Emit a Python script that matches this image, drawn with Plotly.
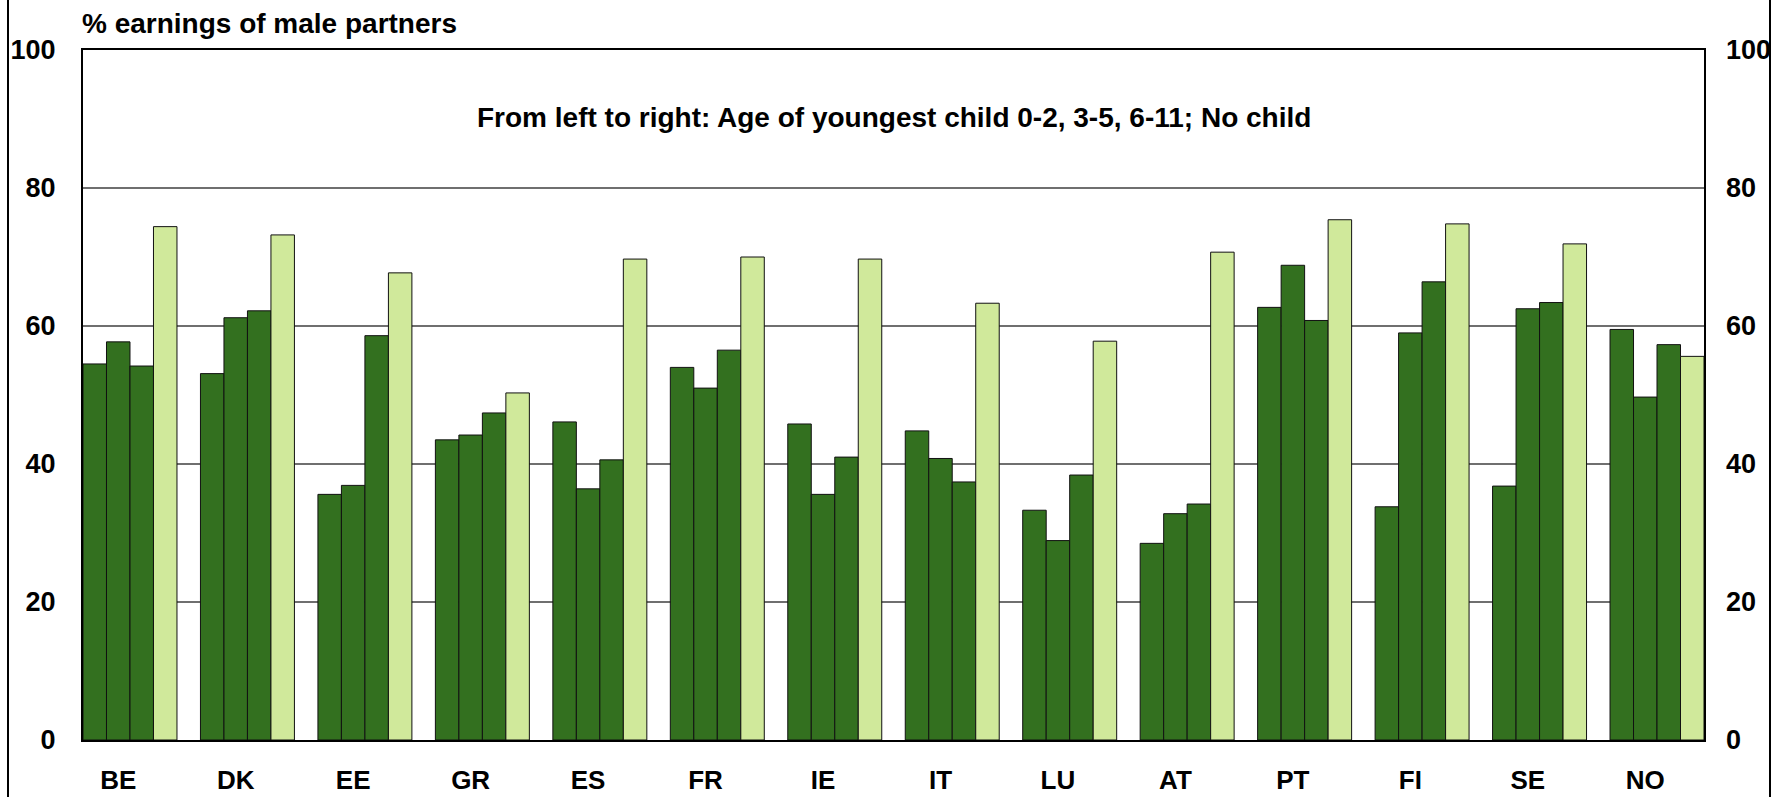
"""
Women's earnings as % of male partners' earnings, by age of youngest child.
Clustered columns: three age bands (dark green) and no child (light green).
"""

import plotly.graph_objects as go

COUNTRIES = ["BE", "DK", "EE", "GR", "ES", "FR", "IE", "IT", "LU", "AT", "PT", "FI", "SE", "NO"]

CHILD_0_2 = [54.5, 53.1, 35.6, 43.5, 46.1, 54.0, 45.8, 44.8, 33.3, 28.5, 62.7, 33.8, 36.8, 59.5]
CHILD_3_5 = [57.7, 61.2, 36.9, 44.2, 36.4, 51.0, 35.6, 40.8, 28.9, 32.8, 68.8, 59.0, 62.5, 49.7]
CHILD_6_11 = [54.2, 62.2, 58.6, 47.4, 40.6, 56.5, 41.0, 37.4, 38.4, 34.2, 60.8, 66.4, 63.4, 57.3]
NO_CHILD = [74.4, 73.2, 67.7, 50.3, 69.7, 70.0, 69.7, 63.3, 57.8, 70.7, 75.4, 74.8, 71.9, 55.6]

Y_TICKS = [0, 20, 40, 60, 80, 100]

DARK_GREEN = "#33701F"
LIGHT_GREEN = "#D0E99B"
FONT = "Liberation Sans, Arial, sans-serif"

# full-window figure (body margin removed below)
W, H = 1784, 797
# plot area in page pixels
PX_L, PX_R, PX_T, PX_B = 83, 1704, 50, 740
L, T, R, B = PX_L, PX_T, W - PX_R, H - PX_B


def paper_x(xp):
    return (xp - PX_L) / (PX_R - PX_L)


def paper_y(yp):
    return (PX_B - yp) / (PX_B - PX_T)


idx = list(range(len(COUNTRIES)))

fig = go.Figure()
series = [
    ("0-2", CHILD_0_2, DARK_GREEN),
    ("3-5", CHILD_3_5, DARK_GREEN),
    ("6-11", CHILD_6_11, DARK_GREEN),
    ("No child", NO_CHILD, LIGHT_GREEN),
]
for name, vals, col in series:
    fig.add_trace(go.Bar(
        x=idx, y=vals, name=name,
        marker=dict(color=col, line=dict(color="#111111", width=1)),
    ))

# invisible trace so the right-hand axis gets drawn
fig.add_trace(go.Scatter(x=idx, y=NO_CHILD, yaxis="y2", mode="none",
                         showlegend=False, hoverinfo="skip"))

tick_font = dict(family=FONT, size=27, color="black", weight="bold")

fig.update_layout(
    width=W, height=H,
    margin=dict(l=L, r=R, t=T, b=B, autoexpand=False),
    paper_bgcolor="white", plot_bgcolor="white",
    barmode="group", bargap=0.2, bargroupgap=0,
    showlegend=False,
    font=dict(family=FONT, color="black"),
    xaxis=dict(
        range=[-0.4, len(COUNTRIES) - 0.6],
        tickvals=[i - 0.1 for i in idx], ticktext=COUNTRIES,
        tickfont=dict(tick_font, size=26), ticks="", ticklabelstandoff=16,
        showgrid=False, zeroline=False, automargin=False,
        showline=True, linecolor="black", linewidth=2, mirror=True,
    ),
    yaxis=dict(
        range=[0, 100], tickvals=Y_TICKS,
        tickfont=tick_font, ticks="", ticklabelstandoff=20,
        showgrid=True, gridcolor="#6F6F6F", gridwidth=1.5,
        zeroline=False, automargin=False,
        showline=True, linecolor="black", linewidth=2, mirror=True,
    ),
    yaxis2=dict(
        range=[0, 100], tickvals=Y_TICKS, overlaying="y", side="right",
        tickfont=tick_font, ticks="", ticklabelstandoff=21,
        showgrid=False, zeroline=False, showline=False, automargin=False,
    ),
)

# y-axis title and the note inside the plot
fig.add_annotation(
    text="% earnings of male partners",
    xref="paper", yref="paper", x=paper_x(80), y=paper_y(24),
    xanchor="left", yanchor="middle", showarrow=False,
    font=dict(family=FONT, size=28, color="black", weight="bold"),
)
fig.add_annotation(
    text="From left to right: Age of youngest child 0-2, 3-5, 6-11; No child",
    xref="paper", yref="paper", x=0.5, y=paper_y(118),
    xanchor="center", yanchor="middle", showarrow=False,
    font=dict(family=FONT, size=28, color="black", weight="bold"),
)

# outer chart frame (left and right edges visible in the picture)
for xp in (8, 1770):
    fig.add_shape(
        type="line", xref="paper", yref="paper",
        x0=paper_x(xp), x1=paper_x(xp), y0=-0.2, y1=1.2,
        line=dict(color="black", width=2), layer="above",
    )

fig.write_html(
    "out.html",
    config={"displayModeBar": False},
    post_script="document.body.style.margin='0px';document.body.style.overflow='hidden';",
)
